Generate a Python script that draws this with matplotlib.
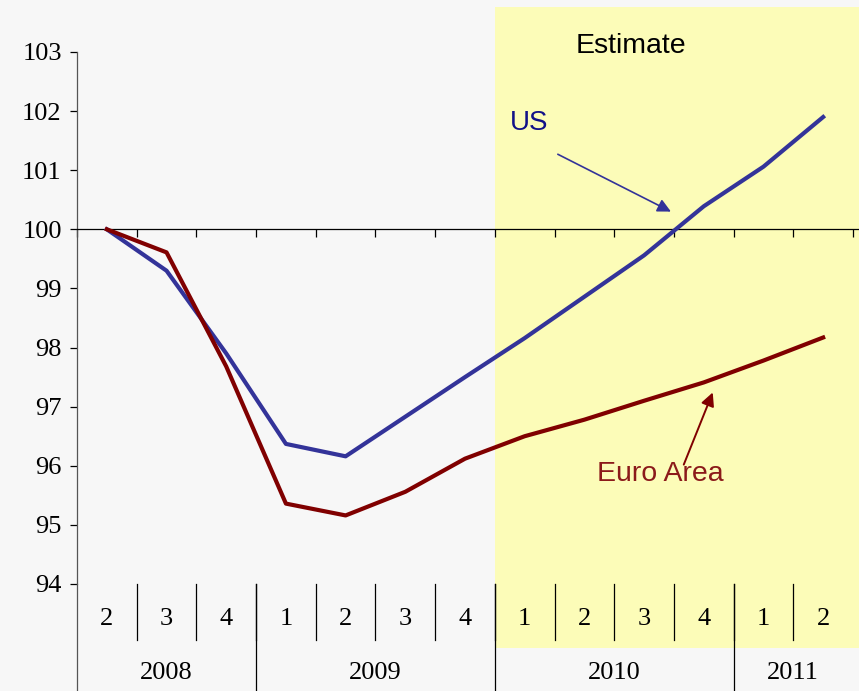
import matplotlib.pyplot as plt
import matplotlib.patches as mpatches

# quarterly index, 2008Q2 = 100
quarters = ['2', '3', '4', '1', '2', '3', '4', '1', '2', '3', '4', '1', '2']
years = ['2008', '2009', '2010', '2011']
year_spans = [(0, 3), (3, 7), (7, 11), (11, 13)]
us = [100.0, 99.3, 97.9, 96.37, 96.16, 96.83, 97.5, 98.16, 98.86, 99.56, 100.39, 101.06, 101.9]
euro = [100.0, 99.61, 97.68, 95.36, 95.16, 95.56, 96.12, 96.5, 96.78, 97.1, 97.41, 97.78, 98.17]
estimate_start = 6.5

bg = '#f7f7f7'
fig = plt.figure(figsize=(8.59, 6.91), dpi=100, facecolor=bg)
ax = fig.add_axes([77/859, 1-584/691, 782/859, 532/691])
ax.set_facecolor(bg)
ax.set_xlim(-0.5, 12.5 + 6/59.7)
ax.set_ylim(94, 103)

# estimate shading (goes past the axes into the quarter labels row)
ax.add_patch(mpatches.Rectangle((estimate_start, 92.92), 20, 103.76 - 92.92,
                                facecolor='#fcfcb8', edgecolor='none',
                                clip_on=False, zorder=0))

x = range(len(us))
ax.plot(x, us, color='#333399', lw=3.0, zorder=3, solid_joinstyle='round')
ax.plot(x, euro, color='#800000', lw=3.0, zorder=3, solid_joinstyle='round')

# axes look
for s in ['top', 'right']:
    ax.spines[s].set_visible(False)
ax.spines['bottom'].set_position(('data', 100))
ax.spines['bottom'].set_linewidth(0.9)
ax.spines['left'].set_linewidth(0.9)
ax.spines['left'].set_color('#555555')
ax.set_xticks([i - 0.5 for i in range(14)])
ax.set_xticklabels([])
ax.tick_params(axis='x', direction='out', length=6, width=0.9)
ax.set_yticks(range(94, 104))
ax.tick_params(axis='y', direction='out', length=5, width=0.9, pad=6)
for lab in ax.get_yticklabels():
    lab.set_fontfamily('Liberation Serif')
    lab.set_fontsize(19)

# left spine continues down through the label rows
ax.plot([-0.5, -0.5], [94, 92.1], color='#555555', lw=0.9, clip_on=False)

# quarter labels and separators
for i, q in enumerate(quarters):
    ax.text(i, 93.41, q, ha='center', va='center', fontsize=19,
            family='Liberation Serif', clip_on=False)
for i in range(1, 13):
    ax.plot([i - 0.5, i - 0.5], [94, 93.05], color='black', lw=0.9, clip_on=False)

# year labels and separators
for (a, b), yr in zip(year_spans, years):
    ax.text((a + b - 1) / 2, 92.49, yr, ha='center', va='center', fontsize=19,
            family='Liberation Serif', clip_on=False)
for a, b in year_spans[1:]:
    ax.plot([a - 0.5, a - 0.5], [94, 92.1], color='black', lw=0.9, clip_on=False)

# annotations
ax.text(8.78, 103.1, 'Estimate', ha='center', va='center', fontsize=20.5,
        family='Liberation Sans', color='black')
ax.text(7.07, 101.8, 'US', ha='center', va='center', fontsize=20,
        family='Liberation Sans', color='#111188')
ax.annotate('', xy=(9.45, 100.3), xytext=(7.555, 101.27),
            arrowprops=dict(arrowstyle='-|>', color='#333399', lw=1.2,
                            mutation_scale=20, shrinkA=0, shrinkB=0))
ax.text(9.28, 95.86, 'Euro Area', ha='center', va='center', fontsize=20.5,
        family='Liberation Sans', color='#8b1a1a')
ax.annotate('', xy=(10.15, 97.24), xytext=(9.665, 96.02),
            arrowprops=dict(arrowstyle='-|>', color='#800000', lw=1.4,
                            mutation_scale=20, shrinkA=0, shrinkB=0))

fig.savefig('out.png', dpi=100, facecolor=bg)
